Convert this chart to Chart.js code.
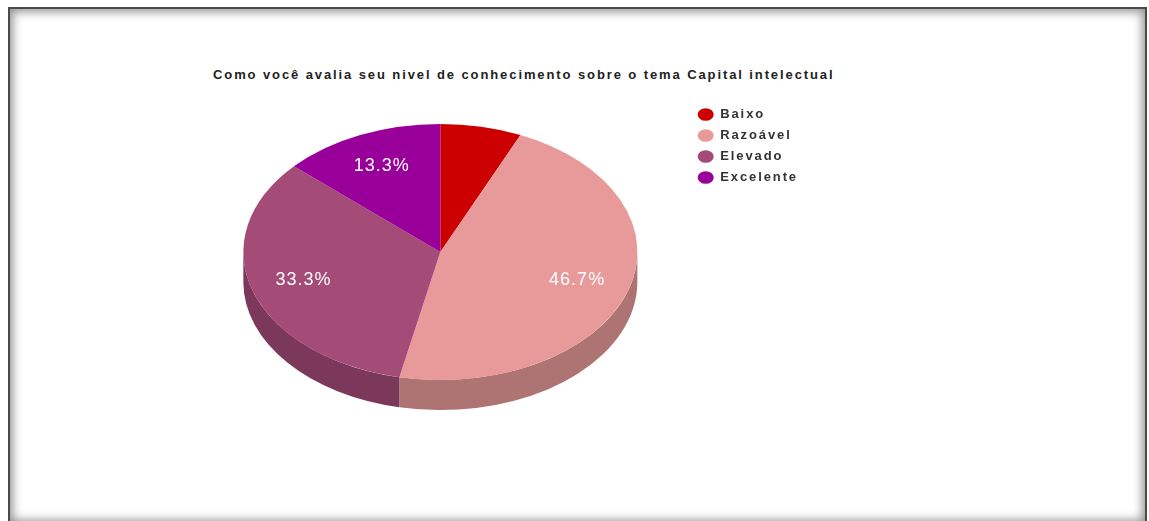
<!DOCTYPE html>
<html lang="pt">
<head>
<meta charset="utf-8">
<title>Capital intelectual</title>
<script src="https://cdn.jsdelivr.net/npm/chart.js@4.4.1/dist/chart.umd.min.js"></script>
<style>
  html, body { margin: 0; padding: 0; background: #fff; width: 1149px; height: 521px; overflow: hidden; }
  #frame {
    position: absolute; left: 8px; top: 7px; width: 1135px; height: 514px;
    border: 2px solid #4a4a4a;
    box-shadow: inset 0 0 10px 3px rgba(0,0,0,0.42);
  }
  #title {
    position: absolute; left: 213px; top: 67px; white-space: nowrap;
    font: bold 13px "Liberation Sans", Arial, sans-serif; letter-spacing: 1.9px;
    line-height: 16px; color: #222;
  }
  #chart { position: absolute; left: 0; top: 0; }
</style>
</head>
<body>
<div id="frame"></div>
<div id="title">Como você avalia seu nivel de conhecimento sobre o tema Capital intelectual</div>
<canvas id="chart" width="1149" height="521"></canvas>
<script>
// Answers per knowledge level
const categories = ['Baixo', 'Razoável', 'Elevado', 'Excelente'];
const responses = [1, 7, 5, 2];

// Slice colours: top face and the darker rim
const topColors  = ['#cc0000', '#e89a9a', '#a54b78', '#990099'];
const sideColors = ['#990000', '#ae7373', '#7c385a', '#730073'];

const TILT = 0.65;          // vertical squash of the pie disc
const DEPTH = 30;           // thickness of the rim in px
const LABEL_AT = 0.73;      // slice label distance, fraction of radius
const LABEL_MIN = 0.1;      // smallest share that gets a label
const LEGEND_SPACING = '1.9px';

const pie3d = {
  id: 'pie3d',
  beforeLayout(chart) { chart.ctx.letterSpacing = LEGEND_SPACING; },
  beforeDraw(chart) { chart.ctx.letterSpacing = LEGEND_SPACING; },
  beforeDatasetsDraw(chart) {
    const ctx = chart.ctx;
    const arcs = chart.getDatasetMeta(0).data;
    ctx.save();
    arcs.forEach((arc, i) => {
      const p = arc.getProps(['x', 'y', 'startAngle', 'endAngle', 'outerRadius'], true);
      const a = Math.max(p.startAngle, 0);
      const b = Math.min(p.endAngle, Math.PI);
      if (b <= a) return;
      const rx = p.outerRadius, ry = p.outerRadius * TILT;
      ctx.beginPath();
      ctx.ellipse(p.x, p.y, rx, ry, 0, a, b, false);
      ctx.ellipse(p.x, p.y + DEPTH, rx, ry, 0, b, a, true);
      ctx.closePath();
      ctx.fillStyle = sideColors[i];
      ctx.fill();
    });
    ctx.restore();
    const c = arcs[0];
    ctx.save();
    ctx.translate(c.x, c.y);
    ctx.scale(1, TILT);
    ctx.translate(-c.x, -c.y);
  },
  afterDatasetsDraw(chart) {
    const ctx = chart.ctx;
    ctx.restore();
    const values = chart.data.datasets[0].data;
    const total = values.reduce((s, v) => s + v, 0);
    const arcs = chart.getDatasetMeta(0).data;
    ctx.save();
    ctx.letterSpacing = '1px';
    ctx.font = '18px "Liberation Sans", Arial, sans-serif';
    ctx.fillStyle = '#ffffff';
    ctx.textAlign = 'center';
    ctx.textBaseline = 'middle';
    arcs.forEach((arc, i) => {
      const share = values[i] / total;
      if (share < LABEL_MIN) return;
      const p = arc.getProps(['x', 'y', 'startAngle', 'endAngle', 'outerRadius'], true);
      const m = (p.startAngle + p.endAngle) / 2;
      const r = p.outerRadius * LABEL_AT;
      ctx.fillText((share * 100).toFixed(1) + '%', p.x + r * Math.cos(m), p.y + r * TILT * Math.sin(m) - 1);
    });
    ctx.restore();
  }
};

new Chart(document.getElementById('chart'), {
  type: 'pie',
  data: {
    labels: categories,
    datasets: [{
      data: responses,
      backgroundColor: topColors,
      borderWidth: 0,
      radius: 197,
      clip: false
    }]
  },
  options: {
    responsive: false,
    animation: false,
    events: [],
    layout: { padding: { left: 191, right: 341, top: 100, bottom: 117 } },
    plugins: {
      title: { display: false },
      tooltip: { enabled: false },
      legend: {
        position: 'right',
        align: 'start',
        labels: {
          usePointStyle: true,
          pointStyle: 'circle',
          pointStyleWidth: 16,
          boxHeight: 9,
          padding: 8,
          color: '#333',
          font: { family: '"Liberation Sans", Arial, sans-serif', size: 13, weight: 'bold' }
        }
      }
    }
  },
  plugins: [pie3d]
});
</script>
</body>
</html>
